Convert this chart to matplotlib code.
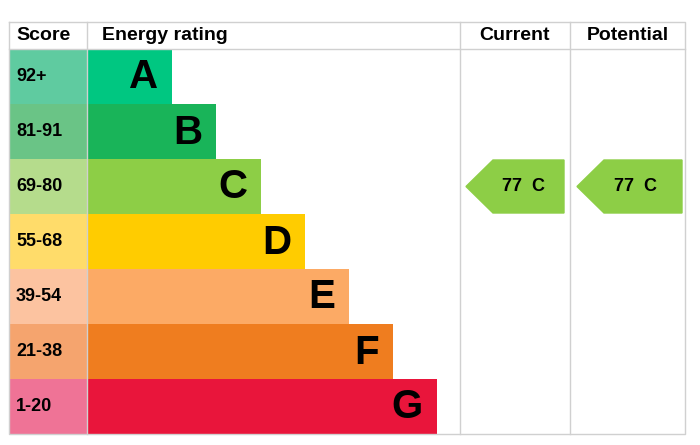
import matplotlib.pyplot as plt
from matplotlib.patches import Polygon

plt.rcParams["font.family"] = ["Liberation Sans", "DejaVu Sans"]

bands = ["A", "B", "C", "D", "E", "F", "G"]
scores = ["92+", "81-91", "69-80", "55-68", "39-54", "21-38", "1-20"]
bar_colors = ["#00c781", "#19b459", "#8dce46", "#ffcc00", "#fcaa65", "#ef7d1f", "#e9153b"]
score_colors = ["#5fcba0", "#6ac486", "#b5dc8c", "#ffdc6a", "#fcc3a0", "#f5a46e", "#ef7396"]
bar_right = [172, 216, 261, 305, 349, 393, 437]
current = 77
current_band = "C"
potential = 77
potential_band = "C"
current_color = "#8dce46"

fig = plt.figure(figsize=(7, 4.45), dpi=100)
ax = fig.add_axes([0, 0, 1, 1])
ax.set_xlim(0, 700)
ax.set_ylim(445, 0)
ax.axis("off")

top, head_h, row_h = 22, 27, 55
left, score_r, rating_r, cur_r, right = 9, 87, 460, 570, 685
y0 = top + head_h
ys = [y0 + i * row_h + row_h / 2 for i in range(len(bands))]

ax.barh(ys, [score_r - left] * len(bands), left=left, height=row_h, color=score_colors)
ax.barh(ys, [r - score_r for r in bar_right], left=score_r, height=row_h, color=bar_colors)

for y, s, b, r in zip(ys, scores, bands, bar_right):
    ax.text(left + 7, y, s, ha="left", va="center", fontsize=13, fontweight="bold")
    ax.text(r - 14, y + 1, b, ha="right", va="center", fontsize=29, fontweight="bold")

# grid lines
lc = "#d0d0d0"
bottom = y0 + row_h * len(bands)
ax.plot([left, right, right, left, left], [top, top, bottom, bottom, top], color=lc, lw=1)
ax.plot([left, right], [y0, y0], color=lc, lw=1)
for x in [score_r, rating_r, cur_r]:
    ax.plot([x, x], [top, bottom], color=lc, lw=1)

hy = top + head_h / 2
ax.text(left + 7, hy, "Score", ha="left", va="center", fontsize=14, fontweight="bold")
ax.text(score_r + 15, hy, "Energy rating", ha="left", va="center", fontsize=14, fontweight="bold")
ax.text((rating_r + cur_r) / 2, hy, "Current", ha="center", va="center", fontsize=14, fontweight="bold")
ax.text((cur_r + right) / 2, hy, "Potential", ha="center", va="center", fontsize=14, fontweight="bold")


def arrow(x0, x1, band, value):
    i = bands.index(band)
    yt = y0 + i * row_h + 1
    yb = yt + row_h - 2
    ym = (yt + yb) / 2
    pts = [(x0, ym), (x0 + 27, yt), (x1, yt), (x1, yb), (x0 + 27, yb)]
    ax.add_patch(Polygon(pts, closed=True, color=current_color))
    ax.text(x0 + 58, ym, f"{value}  {band}", ha="center", va="center", fontsize=13, fontweight="bold")


arrow(466, 564, current_band, current)
arrow(577, 682, potential_band, potential)

fig.savefig("out.png", dpi=100)
